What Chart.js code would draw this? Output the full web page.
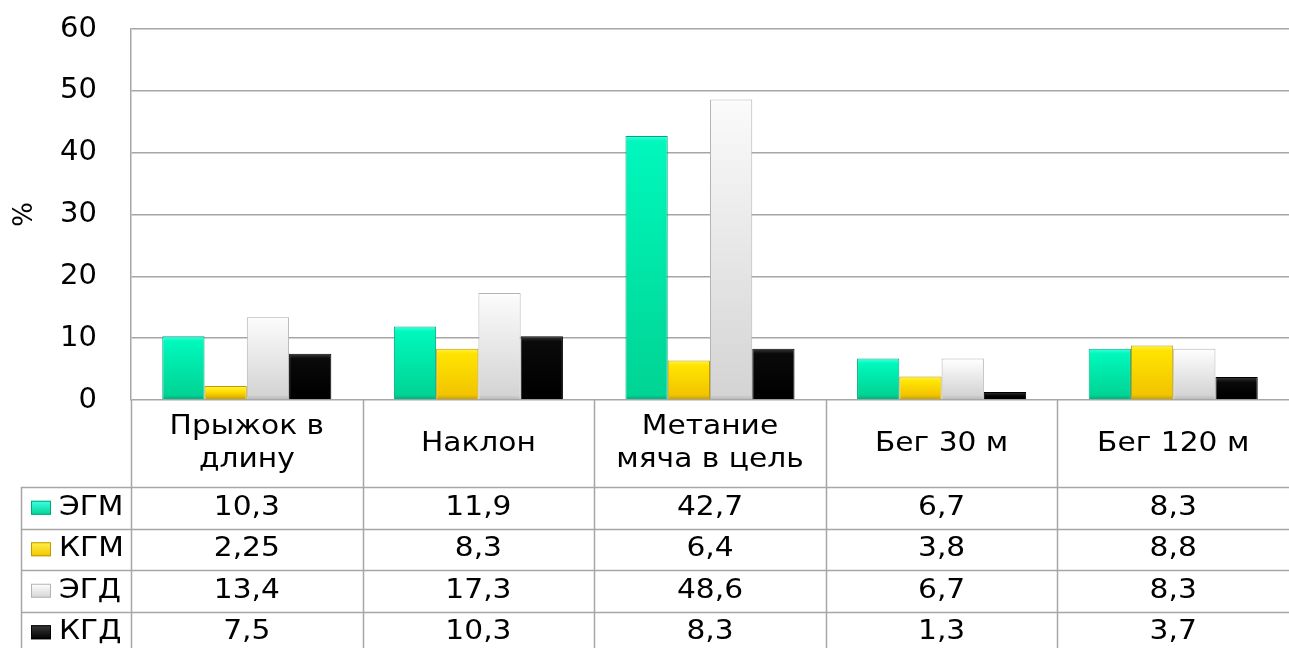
<!DOCTYPE html>
<html>
<head>
<meta charset="utf-8">
<script src="https://cdn.jsdelivr.net/npm/chart.js@4"></script>
<style>
    html, body { margin: 0; padding: 0; background: #ffffff; }
    #wrap { width: 1289px; height: 648px; position: relative; }
</style>
</head>
<body>
<div id="wrap"><canvas id="testChart"></canvas></div>
<script>
// Data
const categories = [['Прыжок в', 'длину'], 'Наклон', ['Метание', 'мяча в цель'], 'Бег 30 м', 'Бег 120 м'];
const seriesNames = ['ЭГМ', 'КГМ', 'ЭГД', 'КГД'];
const egm = [10.3, 11.9, 42.7, 6.7, 8.3];
const kgm = [2.25, 8.3, 6.4, 3.8, 8.8];
const egd = [13.4, 17.3, 48.6, 6.7, 8.3];
const kgd = [7.5, 10.3, 8.3, 1.3, 3.7];
const yTicks = [0, 10, 20, 30, 40, 50, 60];

// Colours: [bevel, top, bottom, border]
const palette = [
    ['#40ffe6', '#00f8bc', '#00d494', '#00a878'],
    ['#fff24a', '#ffe400', '#f2c400', '#c09a00'],
    ['#ffffff', '#fafafa', '#d4d4d4', '#b4b4b4'],
    ['#3a3a3a', '#0a0a0a', '#000000', '#000000']
];

const FONT = '"DejaVu Sans", Verdana, sans-serif';
const gridGray = '#a6a6a6';
const textStretch = 1.1; // table text in the original is a bit wider

// Gradient per bar, from its top to the zero line
function barFill(idx) {
    return function(context) {
        const chart = context.chart;
        const y = chart.scales.y;
        const c = palette[idx];
        if (!y || context.parsed == null) return c[1];
        const top = y.getPixelForValue(context.parsed.y);
        const bottom = y.getPixelForValue(0);
        if (!isFinite(top) || !isFinite(bottom) || top === bottom) return c[1];
        const h = bottom - top;
        const g = chart.ctx.createLinearGradient(0, top, 0, bottom);
        g.addColorStop(0, c[0]);
        g.addColorStop(Math.min(0.4, 5 / h), c[1]);
        g.addColorStop(Math.max(0.6, 1 - 5 / h), c[2]);
        g.addColorStop(1, c[3]);
        return g;
    };
}

function fmt(v) {
    return String(v).replace('.', ',');
}

// text drawn a little wider than the font
function wideText(ctx, text, x, y, align) {
    ctx.save();
    ctx.translate(x, y);
    ctx.scale(textStretch, 1);
    ctx.textAlign = align || 'center';
    ctx.fillText(text, 0, 0);
    ctx.restore();
}

// Data table under the chart
const dataTablePlugin = {
    id: 'dataTable',
    afterDraw(chart) {
        const ctx = chart.ctx;
        const area = chart.chartArea;
        const n = categories.length;
        const colW = (area.right - area.left) / n;
        const headerTop = area.bottom;
        const headerBottom = headerTop + 87;
        const rowH = 41.5;
        const tableLeft = 21;
        const canvasBottom = chart.height;
        const series = [egm, kgm, egd, kgd];

        ctx.save();
        ctx.strokeStyle = gridGray;
        ctx.lineWidth = 1.5;

        // vertical lines
        for (let i = 0; i < n; i++) {
            const x = Math.round(area.left + i * colW) + 0.5;
            ctx.beginPath();
            ctx.moveTo(x, headerTop);
            ctx.lineTo(x, canvasBottom);
            ctx.stroke();
        }
        ctx.beginPath();
        ctx.moveTo(tableLeft + 0.5, headerBottom);
        ctx.lineTo(tableLeft + 0.5, canvasBottom);
        ctx.stroke();

        // horizontal lines
        for (let r = 0; r < series.length; r++) {
            const y = Math.round(headerBottom + r * rowH) + 0.5;
            ctx.beginPath();
            ctx.moveTo(tableLeft, y);
            ctx.lineTo(area.right, y);
            ctx.stroke();
        }

        // header labels
        ctx.fillStyle = '#000000';
        ctx.textBaseline = 'middle';
        ctx.font = '27px ' + FONT;
        const headerMid = (headerTop + headerBottom) / 2;
        categories.forEach(function(cat, i) {
            const cx = area.left + (i + 0.5) * colW;
            const lines = Array.isArray(cat) ? cat : [cat];
            const lh = 33;
            lines.forEach(function(line, k) {
                const cy = headerMid + (k - (lines.length - 1) / 2) * lh;
                wideText(ctx, line, cx, cy);
            });
        });

        // rows
        series.forEach(function(vals, r) {
            const cy = headerBottom + (r + 0.5) * rowH;
            ctx.fillStyle = '#000000';
            vals.forEach(function(v, i) {
                const cx = area.left + (i + 0.5) * colW;
                wideText(ctx, fmt(v), cx, cy);
            });

            // legend key
            const sx = 31, sw = 20, sh = 14;
            const g = ctx.createLinearGradient(0, cy - sh / 2, 0, cy + sh / 2);
            g.addColorStop(0, palette[r][0]);
            g.addColorStop(1, palette[r][2]);
            ctx.fillStyle = g;
            ctx.fillRect(sx, cy - sh / 2, sw, sh);
            ctx.strokeStyle = palette[r][3];
            ctx.lineWidth = 1;
            ctx.strokeRect(sx + 0.5, cy - sh / 2 + 0.5, sw - 1, sh - 1);

            ctx.fillStyle = '#000000';
            wideText(ctx, seriesNames[r], 59, cy, 'left');
        });
        ctx.restore();
    }
};

const datasets = [egm, kgm, egd, kgd].map(function(vals, i) {
    return {
        label: seriesNames[i],
        data: vals,
        backgroundColor: barFill(i),
        borderColor: palette[i][3],
        borderWidth: 1,
        categoryPercentage: 0.73,
        barPercentage: 1.0
    };
});

new Chart(document.getElementById('testChart'), {
    type: 'bar',
    data: {
        labels: categories,
        datasets: datasets
    },
    options: {
        responsive: true,
        maintainAspectRatio: false,
        animation: false,
        layout: {
            padding: { top: 29, right: 0, bottom: 248, left: 0 }
        },
        plugins: {
            legend: { display: false },
            tooltip: { enabled: false }
        },
        scales: {
            x: {
                display: false
            },
            y: {
                min: 0,
                max: 60,
                afterBuildTicks: function(scale) {
                    scale.ticks = yTicks.map(function(v) { return { value: v }; });
                },
                afterFit: function(scale) {
                    // fixed axis width, and no extra room above the top label
                    scale.width = 131;
                    scale.paddingTop = 0;
                    scale.paddingBottom = 0;
                },
                grid: {
                    color: gridGray,
                    lineWidth: 1.5,
                    drawTicks: false
                },
                border: {
                    display: true,
                    color: gridGray,
                    width: 1.5
                },
                ticks: {
                    color: '#000000',
                    padding: 34,
                    font: { family: FONT, size: 29 }
                },
                title: {
                    display: true,
                    text: '%',
                    color: '#000000',
                    padding: { top: 10, bottom: 0 },
                    font: { family: FONT, size: 26 }
                }
            }
        }
    },
    plugins: [dataTablePlugin]
});
</script>
</body>
</html>
